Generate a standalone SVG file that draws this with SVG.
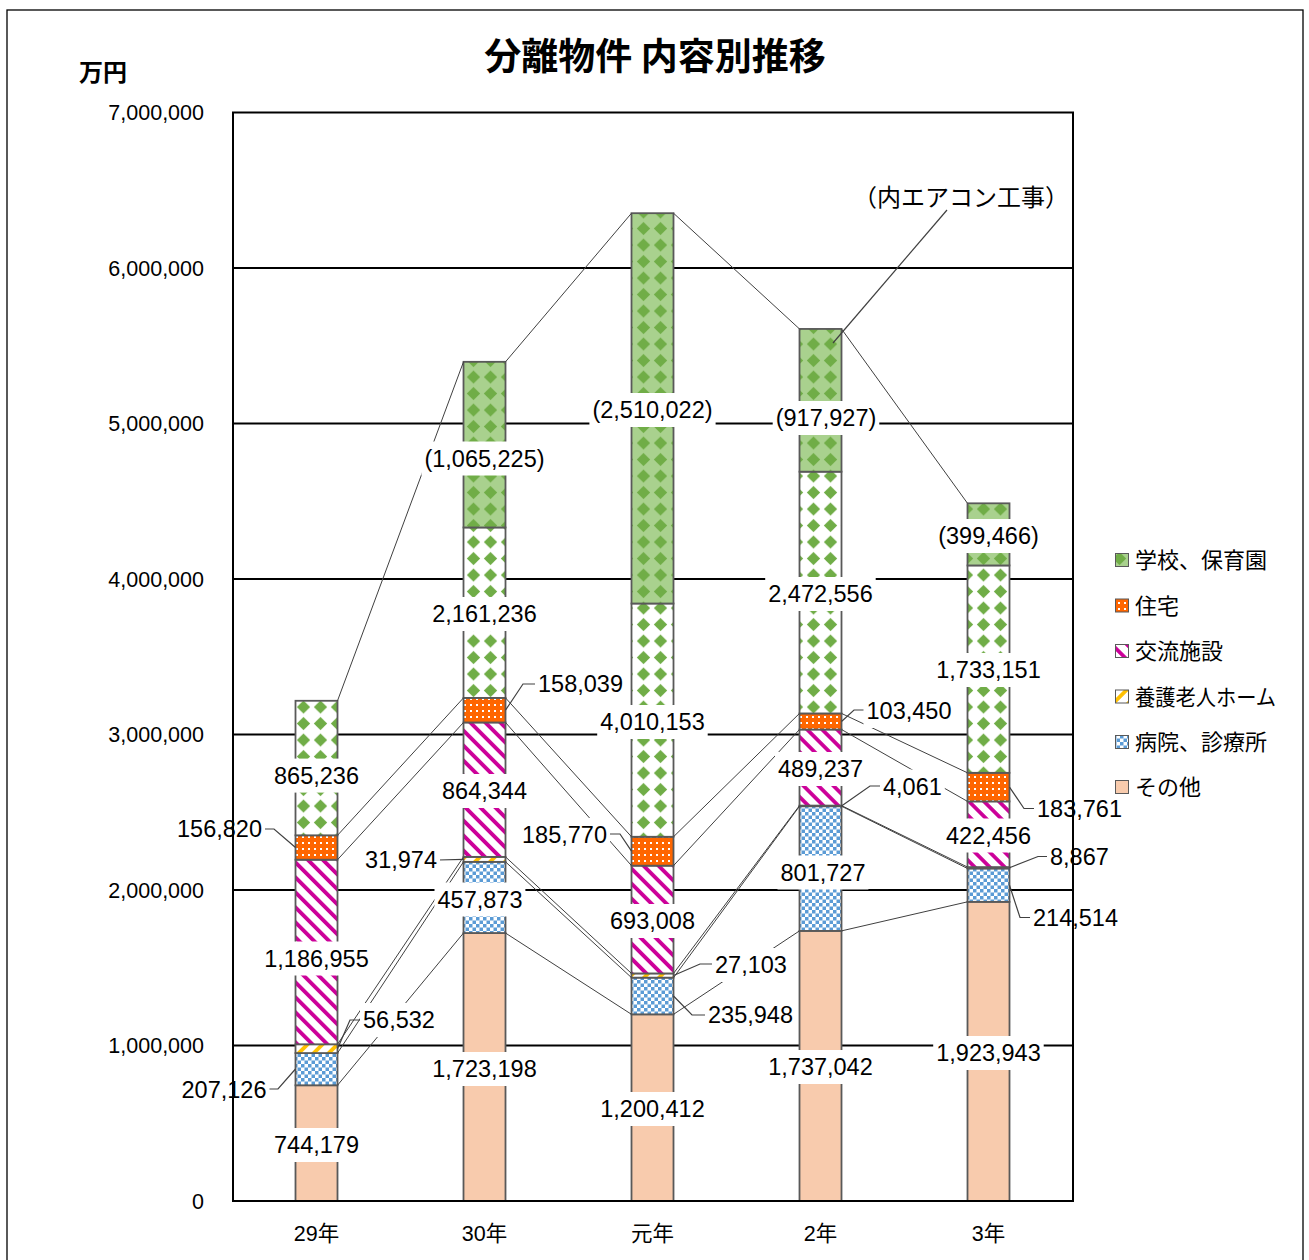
<svg xmlns="http://www.w3.org/2000/svg" width="1309" height="1260" viewBox="0 0 1309 1260">
<style>
.seg{stroke:#595959;stroke-width:1.8}
.grid{stroke:#000;stroke-width:1.8;fill:none}
.sl{stroke:#404040;stroke-width:1;fill:none}
.ld{stroke:#404040;stroke-width:1.2;fill:none}
.bg{fill:#fff}
.lb{font-family:"Liberation Sans","Noto Sans CJK JP",sans-serif;font-size:23.5px;fill:#000}
.ax{font-family:"Liberation Sans","Noto Sans CJK JP",sans-serif;font-size:21.5px;fill:#000}
.jp{font-family:"Noto Sans CJK JP",sans-serif;fill:#000}
.c{text-anchor:middle}
.e{text-anchor:end}
</style>
<defs>
<pattern id="pSchool" patternUnits="userSpaceOnUse" x="295" y="698.8" width="17" height="16.5">
<rect width="17" height="16.5" fill="#fff"/>
<path d="M8.5 1.8 L15.2 8.25 L8.5 14.7 L1.8 8.25 Z" fill="#70AD47"/>
</pattern>
<pattern id="pAir" patternUnits="userSpaceOnUse" x="295" y="698.8" width="17" height="16.5">
<rect width="17" height="16.5" fill="#A9D18E"/>
<path d="M8.5 1.8 L15.2 8.25 L8.5 14.7 L1.8 8.25 Z" fill="#70AD47"/>
</pattern>
<pattern id="pOrange" patternUnits="userSpaceOnUse" width="6" height="6">
<rect width="6" height="6" fill="#FF6600"/>
<rect x="2" y="2" width="2" height="2" fill="#fff"/>
</pattern>
<pattern id="pMag" patternUnits="userSpaceOnUse" width="10.6" height="10.6" patternTransform="rotate(-45)">
<rect width="10.6" height="10.6" fill="#fff"/>
<rect width="3.8" height="10.6" fill="#CC0099"/>
</pattern>
<pattern id="pYel" patternUnits="userSpaceOnUse" width="10.6" height="10.6" patternTransform="rotate(45)">
<rect width="10.6" height="10.6" fill="#fff"/>
<rect width="3.8" height="10.6" fill="#FFC000"/>
</pattern>
<pattern id="pCheck" patternUnits="userSpaceOnUse" width="7" height="7">
<rect width="7" height="7" fill="#fff"/>
<rect width="3.5" height="3.5" fill="#5B9BD5"/>
<rect x="3.5" y="3.5" width="3.5" height="3.5" fill="#5B9BD5"/>
</pattern>
</defs>

<rect x="0" y="0" width="1309" height="1260" fill="#fff"/>
<rect x="7" y="10" width="1296" height="1300" fill="none" stroke="#000" stroke-width="1.3"/>

<g id="title">
<text class="jp" x="655" y="70" font-size="37" font-weight="bold" text-anchor="middle">分離物件 内容別推移</text>
</g>

<g id="gridlines">
<line class="grid" x1="233" y1="268" x2="1073" y2="268"/>
<line class="grid" x1="233" y1="423.5" x2="1073" y2="423.5"/>
<line class="grid" x1="233" y1="579" x2="1073" y2="579"/>
<line class="grid" x1="233" y1="734.5" x2="1073" y2="734.5"/>
<line class="grid" x1="233" y1="890" x2="1073" y2="890"/>
<line class="grid" x1="233" y1="1045.5" x2="1073" y2="1045.5"/>
</g>

<g id="bar-29">
<rect class="seg" x="295.5" y="1085.28" width="42" height="115.72" fill="#F8CBAD"/>
<rect class="seg" x="295.5" y="1053.07" width="42" height="32.21" fill="url(#pCheck)"/>
<rect class="seg" x="295.5" y="1044.28" width="42" height="8.79" fill="url(#pYel)"/>
<rect class="seg" x="295.5" y="859.71" width="42" height="184.57" fill="url(#pMag)"/>
<rect class="seg" x="295.5" y="835.32" width="42" height="24.39" fill="url(#pOrange)"/>
<rect class="seg" x="295.5" y="700.78" width="42" height="134.54" fill="url(#pSchool)"/>
</g>
<g id="bar-30">
<rect class="seg" x="463.5" y="933.04" width="42" height="267.96" fill="#F8CBAD"/>
<rect class="seg" x="463.5" y="861.84" width="42" height="71.2" fill="url(#pCheck)"/>
<rect class="seg" x="463.5" y="856.87" width="42" height="4.97" fill="url(#pYel)"/>
<rect class="seg" x="463.5" y="722.47" width="42" height="134.4" fill="url(#pMag)"/>
<rect class="seg" x="463.5" y="697.89" width="42" height="24.58" fill="url(#pOrange)"/>
<rect class="seg" x="463.5" y="527.46" width="42" height="170.43" fill="url(#pSchool)"/>
<rect class="seg" x="463.5" y="361.82" width="42" height="165.64" fill="url(#pAir)"/>
</g>
<g id="bar-gannen">
<rect class="seg" x="631.5" y="1014.34" width="42" height="186.66" fill="#F8CBAD"/>
<rect class="seg" x="631.5" y="977.65" width="42" height="36.69" fill="url(#pCheck)"/>
<rect class="seg" x="631.5" y="973.43" width="42" height="4.22" fill="url(#pYel)"/>
<rect class="seg" x="631.5" y="865.67" width="42" height="107.76" fill="url(#pMag)"/>
<rect class="seg" x="631.5" y="836.78" width="42" height="28.89" fill="url(#pOrange)"/>
<rect class="seg" x="631.5" y="603.51" width="42" height="233.27" fill="url(#pSchool)"/>
<rect class="seg" x="631.5" y="213.2" width="42" height="390.31" fill="url(#pAir)"/>
</g>
<g id="bar-2">
<rect class="seg" x="799.5" y="930.89" width="42" height="270.11" fill="#F8CBAD"/>
<rect class="seg" x="799.5" y="806.22" width="42" height="124.67" fill="url(#pCheck)"/>
<rect class="seg" x="799.5" y="805.59" width="42" height="0.63" fill="url(#pYel)"/>
<rect class="seg" x="799.5" y="729.51" width="42" height="76.08" fill="url(#pMag)"/>
<rect class="seg" x="799.5" y="713.43" width="42" height="16.08" fill="url(#pOrange)"/>
<rect class="seg" x="799.5" y="471.68" width="42" height="241.75" fill="url(#pSchool)"/>
<rect class="seg" x="799.5" y="328.94" width="42" height="142.74" fill="url(#pAir)"/>
</g>
<g id="bar-3">
<rect class="seg" x="967.5" y="901.83" width="42" height="299.17" fill="#F8CBAD"/>
<rect class="seg" x="967.5" y="868.47" width="42" height="33.36" fill="url(#pCheck)"/>
<rect class="seg" x="967.5" y="867.09" width="42" height="1.38" fill="url(#pYel)"/>
<rect class="seg" x="967.5" y="801.4" width="42" height="65.69" fill="url(#pMag)"/>
<rect class="seg" x="967.5" y="772.82" width="42" height="28.58" fill="url(#pOrange)"/>
<rect class="seg" x="967.5" y="565.44" width="42" height="207.38" fill="url(#pSchool)"/>
<rect class="seg" x="967.5" y="503.32" width="42" height="62.12" fill="url(#pAir)"/>
</g>

<g id="connectors">
<line class="sl" x1="337.5" y1="700.78" x2="463.5" y2="361.82"/>
<line class="sl" x1="505.5" y1="361.82" x2="631.5" y2="213.2"/>
<line class="sl" x1="673.5" y1="213.2" x2="799.5" y2="328.94"/>
<line class="sl" x1="841.5" y1="328.94" x2="967.5" y2="503.32"/>
<line class="sl" x1="337.5" y1="835.32" x2="463.5" y2="697.89"/>
<line class="sl" x1="505.5" y1="697.89" x2="631.5" y2="836.78"/>
<line class="sl" x1="673.5" y1="836.78" x2="799.5" y2="713.43"/>
<line class="sl" x1="841.5" y1="713.43" x2="967.5" y2="772.82"/>
<line class="sl" x1="337.5" y1="859.71" x2="463.5" y2="722.47"/>
<line class="sl" x1="505.5" y1="722.47" x2="631.5" y2="865.67"/>
<line class="sl" x1="673.5" y1="865.67" x2="799.5" y2="729.51"/>
<line class="sl" x1="841.5" y1="729.51" x2="967.5" y2="801.4"/>
<line class="sl" x1="337.5" y1="1044.28" x2="463.5" y2="856.87"/>
<line class="sl" x1="505.5" y1="856.87" x2="631.5" y2="973.43"/>
<line class="sl" x1="673.5" y1="973.43" x2="799.5" y2="805.59"/>
<line class="sl" x1="841.5" y1="805.59" x2="967.5" y2="867.09"/>
<line class="sl" x1="337.5" y1="1053.07" x2="463.5" y2="861.84"/>
<line class="sl" x1="505.5" y1="861.84" x2="631.5" y2="977.65"/>
<line class="sl" x1="673.5" y1="977.65" x2="799.5" y2="806.22"/>
<line class="sl" x1="841.5" y1="806.22" x2="967.5" y2="868.47"/>
<line class="sl" x1="337.5" y1="1085.28" x2="463.5" y2="933.04"/>
<line class="sl" x1="505.5" y1="933.04" x2="631.5" y2="1014.34"/>
<line class="sl" x1="673.5" y1="1014.34" x2="799.5" y2="930.89"/>
<line class="sl" x1="841.5" y1="930.89" x2="967.5" y2="901.83"/>
<polyline class="ld" points="263,829 274,829 295.5,847.5"/>
<polyline class="ld" points="267,1089 278,1089 295.5,1069"/>
<polyline class="ld" points="362,1020 350,1020 337.5,1048.7"/>
<polyline class="ld" points="438,860 463.5,859.4"/>
<polyline class="ld" points="537,684 523,684 505.5,710.2"/>
<polyline class="ld" points="608,834 620,834 631.5,851.2"/>
<polyline class="ld" points="714,964 700,964 673.5,975.5"/>
<polyline class="ld" points="707,1015 692,1015 673.5,996"/>
<polyline class="ld" points="866,710 854,710 841.5,721.5"/>
<polyline class="ld" points="883,786 870,786 841.5,805.9"/>
<polyline class="ld" points="1036,808.5 1024,808.5 1009.5,787.1"/>
<polyline class="ld" points="1049,856.5 1038,856.5 1009.5,867.8"/>
<polyline class="ld" points="1032,917.5 1020,917.5 1009.5,885.2"/>
<line class="ld" x1="947" y1="210" x2="833" y2="343"/>
</g>

<g id="labels">
<g id="lb-865236"><rect class="bg" x="271" y="758.6" width="90.9" height="34"/><text class="lb c" x="316.5" y="784">865,236</text></g>
<g id="lb-1186955"><rect class="bg" x="261.2" y="941.5" width="110.5" height="34"/><text class="lb c" x="316.5" y="966.9">1,186,955</text></g>
<g id="lb-744179"><rect class="bg" x="271" y="1128" width="90.9" height="34"/><text class="lb c" x="316.5" y="1153.4">744,179</text></g>
<g id="lb-156820"><rect class="bg" x="174.1" y="812" width="90.9" height="34"/><text class="lb e" x="262" y="837.4">156,820</text></g>
<g id="lb-207126"><rect class="bg" x="178.6" y="1073" width="90.9" height="34"/><text class="lb e" x="266.5" y="1098.4">207,126</text></g>
<g id="lb-56532"><rect class="bg" x="360" y="1003" width="77.9" height="34"/><text class="lb" x="363" y="1028.4">56,532</text></g>

<g id="lb-1723198"><rect class="bg" x="429.2" y="1052" width="110.5" height="34"/><text class="lb c" x="484.5" y="1077.4">1,723,198</text></g>
<g id="lb-457873"><rect class="bg" x="434.5" y="882.5" width="90.9" height="34"/><text class="lb c" x="480" y="907.9">457,873</text></g>
<g id="lb-864344"><rect class="bg" x="439" y="774" width="90.9" height="34"/><text class="lb c" x="484.5" y="799.4">864,344</text></g>
<g id="lb-2161236"><rect class="bg" x="429.2" y="597" width="110.5" height="34"/><text class="lb c" x="484.5" y="622.4">2,161,236</text></g>
<g id="lb-1065225"><rect class="bg" x="421.4" y="441.5" width="126.2" height="34"/><text class="lb c" x="484.5" y="466.9">(1,065,225)</text></g>
<g id="lb-31974"><rect class="bg" x="362.1" y="843" width="77.9" height="34"/><text class="lb e" x="437" y="868.4">31,974</text></g>
<g id="lb-158039"><rect class="bg" x="535" y="667" width="90.9" height="34"/><text class="lb" x="538" y="692.4">158,039</text></g>

<g id="lb-4010153"><rect class="bg" x="597.2" y="705" width="110.5" height="34"/><text class="lb c" x="652.5" y="730.4">4,010,153</text></g>
<g id="lb-2510022"><rect class="bg" x="589.4" y="393" width="126.2" height="34"/><text class="lb c" x="652.5" y="418.4">(2,510,022)</text></g>
<g id="lb-693008"><rect class="bg" x="607" y="904" width="90.9" height="34"/><text class="lb c" x="652.5" y="929.4">693,008</text></g>
<g id="lb-1200412"><rect class="bg" x="597.2" y="1092" width="110.5" height="34"/><text class="lb c" x="652.5" y="1117.4">1,200,412</text></g>
<g id="lb-185770"><rect class="bg" x="519.1" y="818" width="90.9" height="34"/><text class="lb e" x="607" y="843.4">185,770</text></g>
<g id="lb-27103"><rect class="bg" x="712" y="948" width="77.9" height="34"/><text class="lb" x="715" y="973.4">27,103</text></g>
<g id="lb-235948"><rect class="bg" x="705" y="998" width="90.9" height="34"/><text class="lb" x="708" y="1023.4">235,948</text></g>

<g id="lb-2472556"><rect class="bg" x="765.2" y="577" width="110.5" height="34"/><text class="lb c" x="820.5" y="602.4">2,472,556</text></g>
<g id="lb-917927"><rect class="bg" x="772.7" y="401" width="106.6" height="34"/><text class="lb c" x="826" y="426.4">(917,927)</text></g>
<g id="lb-489237"><rect class="bg" x="775" y="752" width="90.9" height="34"/><text class="lb c" x="820.5" y="777.4">489,237</text></g>
<g id="lb-801727"><rect class="bg" x="777.5" y="855.5" width="90.9" height="34"/><text class="lb c" x="823" y="880.9">801,727</text></g>
<g id="lb-1737042"><rect class="bg" x="765.2" y="1050" width="110.5" height="34"/><text class="lb c" x="820.5" y="1075.4">1,737,042</text></g>
<g id="lb-103450"><rect class="bg" x="863.5" y="694" width="90.9" height="34"/><text class="lb" x="866.5" y="719.4">103,450</text></g>
<g id="lb-4061"><rect class="bg" x="880" y="769.5" width="64.8" height="34"/><text class="lb" x="883" y="794.9">4,061</text></g>

<g id="lb-1733151"><rect class="bg" x="933.2" y="653" width="110.5" height="34"/><text class="lb c" x="988.5" y="678.4">1,733,151</text></g>
<g id="lb-399466"><rect class="bg" x="935.2" y="519" width="106.6" height="34"/><text class="lb c" x="988.5" y="544.4">(399,466)</text></g>
<g id="lb-422456"><rect class="bg" x="943" y="818.5" width="90.9" height="34"/><text class="lb c" x="988.5" y="843.9">422,456</text></g>
<g id="lb-1923943"><rect class="bg" x="933.2" y="1036" width="110.5" height="34"/><text class="lb c" x="988.5" y="1061.4">1,923,943</text></g>
<g id="lb-183761"><rect class="bg" x="1034" y="791.5" width="90.9" height="34"/><text class="lb" x="1037" y="816.9">183,761</text></g>
<g id="lb-8867"><rect class="bg" x="1047" y="839.5" width="64.8" height="34"/><text class="lb" x="1050" y="864.9">8,867</text></g>
<g id="lb-214514"><rect class="bg" x="1030" y="901" width="90.9" height="34"/><text class="lb" x="1033" y="926.4">214,514</text></g>

<g id="lb-aircon"><text class="jp" x="961" y="206" font-size="24" text-anchor="middle">（内エアコン工事）</text></g>
</g>

<g id="plot-frame">
<rect x="233" y="112.5" width="840" height="1088.5" fill="none" stroke="#000" stroke-width="2"/>
</g>

<g id="y-axis">
<text class="jp" x="79" y="81" font-size="24" font-weight="bold">万円</text>
<text class="ax e" x="204" y="120">7,000,000</text>
<text class="ax e" x="204" y="275.5">6,000,000</text>
<text class="ax e" x="204" y="431">5,000,000</text>
<text class="ax e" x="204" y="586.5">4,000,000</text>
<text class="ax e" x="204" y="742">3,000,000</text>
<text class="ax e" x="204" y="897.5">2,000,000</text>
<text class="ax e" x="204" y="1053">1,000,000</text>
<text class="ax e" x="204" y="1208.5">0</text>
</g>

<g id="x-axis">
<text class="ax c" x="316.5" y="1241">29年</text>
<text class="ax c" x="484.5" y="1241">30年</text>
<text class="ax c" x="652.5" y="1241">元年</text>
<text class="ax c" x="820.5" y="1241">2年</text>
<text class="ax c" x="988.5" y="1241">3年</text>
</g>

<g id="legend">
<g id="lg-school"><rect x="1115.5" y="553.5" width="13" height="13" fill="url(#pAir)" stroke="#595959" stroke-width="1"/><text class="jp" x="1135" y="568" font-size="22">学校、保育園</text></g>
<g id="lg-house"><rect x="1115.5" y="599" width="13" height="13" fill="url(#pOrange)" stroke="#595959" stroke-width="1"/><text class="jp" x="1135" y="613.5" font-size="22">住宅</text></g>
<g id="lg-koryu"><rect x="1115.5" y="644.5" width="13" height="13" fill="url(#pMag)" stroke="#595959" stroke-width="1"/><text class="jp" x="1135" y="659" font-size="22">交流施設</text></g>
<g id="lg-yogo"><rect x="1115.5" y="690" width="13" height="13" fill="url(#pYel)" stroke="#595959" stroke-width="1"/><text class="jp" x="1135" y="704.5" font-size="22" textLength="141" lengthAdjust="spacingAndGlyphs">養護老人ホーム</text></g>
<g id="lg-byoin"><rect x="1115.5" y="735.5" width="13" height="13" fill="url(#pCheck)" stroke="#595959" stroke-width="1"/><text class="jp" x="1135" y="750" font-size="22">病院、診療所</text></g>
<g id="lg-other"><rect x="1115.5" y="780.5" width="13" height="13" fill="#F8CBAD" stroke="#595959" stroke-width="1"/><text class="jp" x="1135" y="795" font-size="22">その他</text></g>
</g>
</svg>
